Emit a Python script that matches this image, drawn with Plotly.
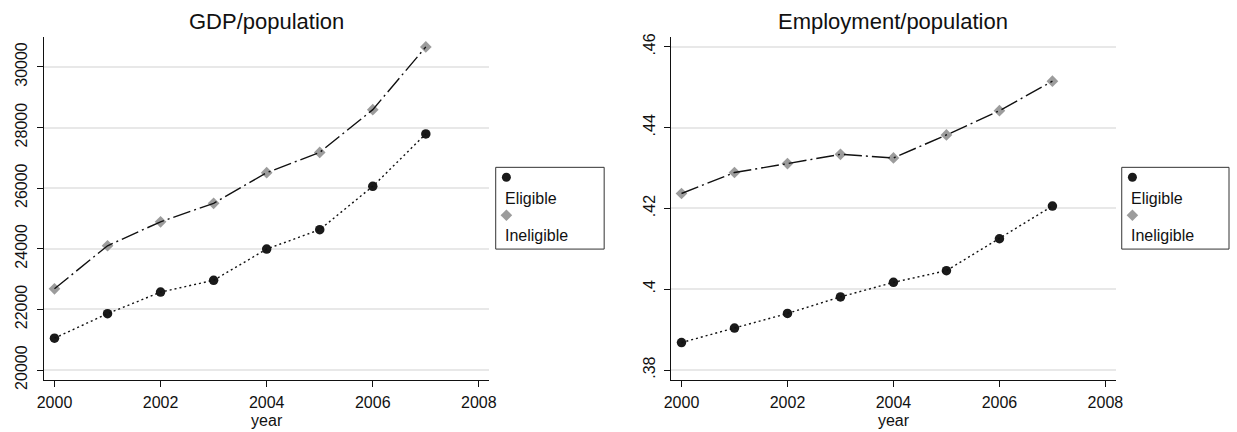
import plotly.graph_objects as go

# ---- data -------------------------------------------------------------
years = [2000, 2001, 2002, 2003, 2004, 2005, 2006, 2007]

gdp_eligible = [21050, 21860, 22570, 22960, 23990, 24630, 26060, 27790]
gdp_ineligible = [22680, 24100, 24890, 25500, 26510, 27180, 28590, 30660]

emp_eligible = [0.3868, 0.3904, 0.3940, 0.3981, 0.4017, 0.4046, 0.4125, 0.4206]
emp_ineligible = [0.4237, 0.4289, 0.4311, 0.4334, 0.4325, 0.4382, 0.4442, 0.4515]

x_ticks = [2000, 2002, 2004, 2006, 2008]
gdp_ticks = [20000, 22000, 24000, 26000, 28000, 30000]
gdp_tick_text = ["20000", "22000", "24000", "26000", "28000", "30000"]
emp_ticks = [0.38, 0.40, 0.42, 0.44, 0.46]
emp_tick_text = [".38", ".4", ".42", ".44", ".46"]

titles = ["GDP/population", "Employment/population"]
series_names = ["Eligible", "Ineligible"]

# ---- styling ----------------------------------------------------------
W, H = 1237, 432
FONT = "Liberation Sans, Arial, Helvetica, sans-serif"
INK = "#111111"
ELIG_COLOR = "#1a1a1a"
INEL_COLOR = "#9c9c9c"
GRID = "#e8e8e8"


def fx(px):
    return px / W


def fy(py):
    return 1 - py / H


PLOT_TOP, PLOT_BOTTOM = 34.3, 388.3
panels = [
    dict(xa="x", ya="y", left=37.3, right=488.0, elig=gdp_eligible,
         inel=gdp_ineligible, yrange=[19680, 30980], ticks=gdp_ticks,
         ticktext=gdp_tick_text, title=titles[0], legend_left=494.3,
         legend_right=604.0),
    dict(xa="x2", ya="y2", left=671.5, right=1121.7, elig=emp_eligible,
         inel=emp_ineligible, yrange=[0.3776, 0.4624], ticks=emp_ticks,
         ticktext=emp_tick_text, title=titles[1], legend_left=1127.5,
         legend_right=1236.0),
]

fig = go.Figure()
annotations = []
shapes = []
layout_axes = {}

for i, p in enumerate(panels):
    common = dict(xaxis=p["xa"], yaxis=p["ya"], showlegend=False, hoverinfo="skip")
    # Eligible: black dots joined by a dotted line
    fig.add_trace(go.Scatter(x=years, y=p["elig"], mode="markers",
                             marker=dict(symbol="circle", size=9.5, color=ELIG_COLOR,
                                         line=dict(width=0)), **common))
    fig.add_trace(go.Scatter(x=years, y=p["elig"], mode="lines",
                             line=dict(color=INK, width=1.4, dash="2px,3px"), **common))
    # Ineligible: grey diamonds joined by a long-dash-dot line
    fig.add_trace(go.Scatter(x=years, y=p["inel"], mode="markers",
                             marker=dict(symbol="diamond", size=9, color=INEL_COLOR,
                                         line=dict(width=0)), **common))
    fig.add_trace(go.Scatter(x=years, y=p["inel"], mode="lines",
                             line=dict(color=INK, width=1.4, dash="18px,4px,2px,4px"), **common))

    suffix = "" if i == 0 else str(i + 1)
    layout_axes["xaxis" + suffix] = dict(
        domain=[fx(p["left"]), fx(p["right"])], range=[1999.8, 2008.2],
        tickmode="array", tickvals=x_ticks, ticktext=[str(t) for t in x_ticks],
        ticks="outside", ticklen=6, tickwidth=1, tickcolor=INK,
        showline=True, linecolor=INK, linewidth=1, showgrid=False, zeroline=False,
        tickfont=dict(family=FONT, size=16, color=INK), ticklabelstandoff=2,
        title=dict(text="year", font=dict(family=FONT, size=16, color=INK), standoff=4),
        anchor=p["ya"], fixedrange=True,
    )
    layout_axes["yaxis" + suffix] = dict(
        domain=[fy(PLOT_BOTTOM), fy(PLOT_TOP)], range=p["yrange"],
        tickmode="array", tickvals=p["ticks"], ticktext=p["ticktext"], tickangle=-90,
        ticks="outside", ticklen=6, tickwidth=1, tickcolor=INK,
        showline=True, linecolor=INK, linewidth=1,
        showgrid=True, gridcolor=GRID, gridwidth=1.5, zeroline=False,
        tickfont=dict(family=FONT, size=16, color=INK), ticklabelstandoff=3,
        anchor=p["xa"], fixedrange=True,
    )

    # panel title
    annotations.append(dict(
        text=p["title"], xref="paper", yref="paper",
        x=fx((p["left"] + p["right"]) / 2), y=fy(18.3),
        xanchor="center", yanchor="middle", showarrow=False,
        font=dict(family=FONT, size=22, color=INK)))

    # legend box: key symbol above each label
    lx0, lx1 = p["legend_left"], p["legend_right"]
    shapes.append(dict(type="rect", xref="paper", yref="paper",
                       x0=fx(lx0), x1=fx(lx1), y0=fy(253.3), y1=fy(168.8),
                       line=dict(color="#333333", width=1), fillcolor="white",
                       layer="above"))
    key_x = fx(lx0 + 10.8)
    shapes.append(dict(type="circle", xref="paper", yref="paper",
                       xsizemode="pixel", ysizemode="pixel",
                       xanchor=key_x, yanchor=fy(179.0),
                       x0=-4.5, x1=4.5, y0=-4.5, y1=4.5,
                       fillcolor=ELIG_COLOR, line=dict(width=0), layer="above"))
    shapes.append(dict(type="path", xref="paper", yref="paper",
                       xsizemode="pixel", ysizemode="pixel",
                       xanchor=key_x, yanchor=fy(218.3),
                       path="M0,5.8 L5.8,0 L0,-5.8 L-5.8,0 Z",
                       fillcolor=INEL_COLOR, line=dict(width=0), layer="above"))
    for name, ypos in zip(series_names, [200.7, 239.3]):
        annotations.append(dict(
            text=name, xref="paper", yref="paper",
            x=fx(lx0 + 7.0), y=fy(ypos), xanchor="left", yanchor="middle",
            showarrow=False, font=dict(family=FONT, size=16, color=INK)))

fig.update_layout(
    width=W, height=H,
    margin=dict(l=0, r=0, t=0, b=0),
    paper_bgcolor="white", plot_bgcolor="white",
    annotations=annotations, shapes=shapes,
    showlegend=False,
    **layout_axes,
)

fig.write_html("out.html")
